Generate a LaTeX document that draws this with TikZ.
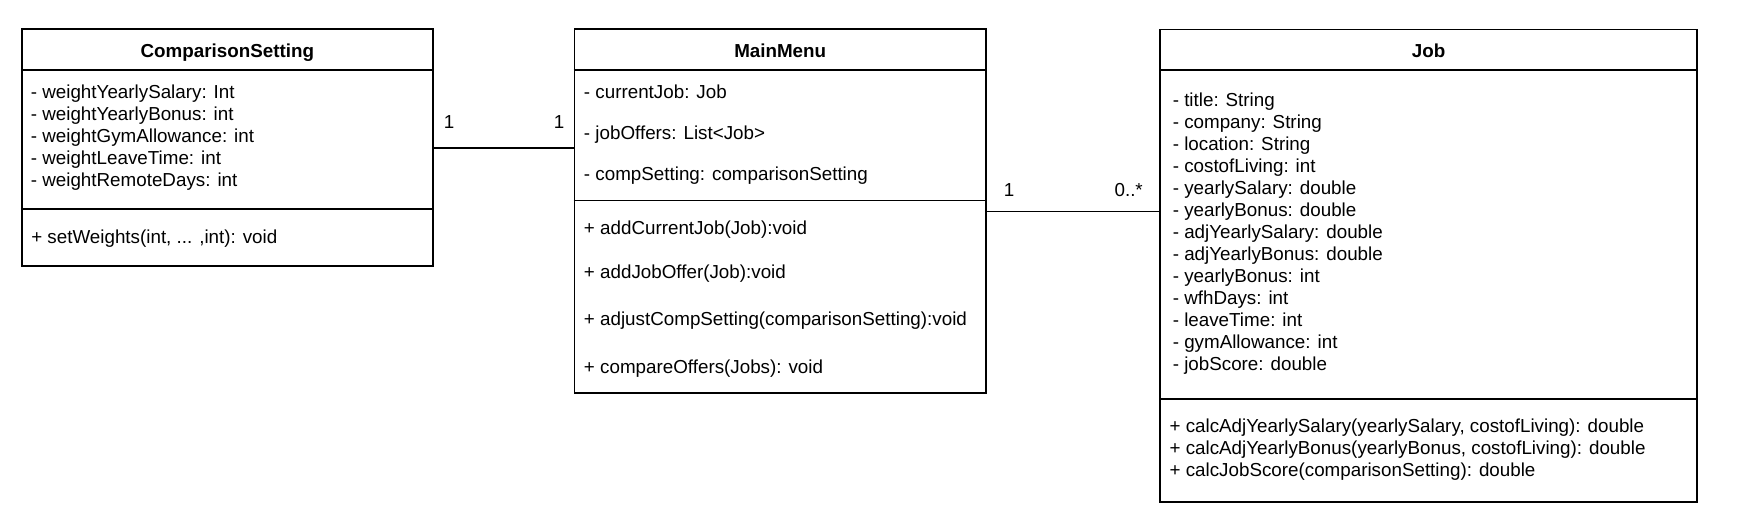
\documentclass[tikz,border=0pt]{standalone}
\usepackage{fontspec}
\setmainfont{Liberation Sans}
\usetikzlibrary{fit}
\tikzset{
  classbox/.style={draw=black, line width=1.45pt, inner sep=0pt, fill=none},
  sepline/.style={draw=black, line width=1.45pt},
  assoc/.style={draw=black, line width=1.45pt},
  txt/.style={anchor=base west, inner sep=0pt, font=\fontsize{14.1}{17}\selectfont},
  ttl/.style={anchor=base, inner sep=0pt, font=\fontsize{14.1}{17}\selectfont\bfseries},
  mult/.style={anchor=base, inner sep=0pt, font=\fontsize{14.1}{17}\selectfont}
}
\begin{document}
\begin{tikzpicture}[x=0.75pt,y=-0.75pt]
\useasboundingbox[fill=white] (0,0) rectangle (1751,529);

% ComparisonSetting
\node[classbox, fit={(21.8,29.3) (432.8,265.7)}] (cs) {};
\draw[sepline] (cs.west |- 0,69.7) -- (cs.east |- 0,69.7);
\draw[sepline] (cs.west |- 0,209) -- (cs.east |- 0,209);
\node[ttl] (cst) at (227.3,57.5) {ComparisonSetting};
\node[txt] (csa1) at (30.6,98.7) {- weightYearlySalary: Int};
\node[txt] (csa2) at (30.6,120.7) {- weightYearlyBonus: int};
\node[txt] (csa3) at (30.6,142.7) {- weightGymAllowance: int};
\node[txt] (csa4) at (30.6,164.7) {- weightLeaveTime: int};
\node[txt] (csa5) at (30.6,186.7) {- weightRemoteDays: int};
\node[txt] (csm1) at (31,243.4) {+ setWeights(int, ... ,int): void};

% MainMenu
\node[classbox, fit={(574.5,29.3) (985.8,392.7)}] (mm) {};
\draw[sepline] (mm.west |- 0,70) -- (mm.east |- 0,70);
\draw[sepline] (mm.west |- 0,200.5) -- (mm.east |- 0,200.5);
\node[ttl] (mmt) at (780.2,57.2) {MainMenu};
\node[txt] (mma1) at (583.7,98.4) {- currentJob: Job};
\node[txt] (mma2) at (583.7,139.4) {- jobOffers: List<Job>};
\node[txt] (mma3) at (583.7,180.7) {- compSetting: comparisonSetting};
\node[txt] (mmm1) at (583.7,234.4) {+ addCurrentJob(Job):void};
\node[txt] (mmm2) at (583.7,278.4) {+ addJobOffer(Job):void};
\node[txt] (mmm3) at (583.7,325) {+ adjustCompSetting(comparisonSetting):void};
\node[txt] (mmm4) at (583.7,373.4) {+ compareOffers(Jobs): void};

% Job
\node[classbox, fit={(1160,29.5) (1697.3,502.3)}] (job) {};
\draw[sepline] (job.west |- 0,70) -- (job.east |- 0,70);
\draw[sepline] (job.west |- 0,399.3) -- (job.east |- 0,399.3);
\node[ttl] (jobt) at (1428.6,57.2) {Job};
\node[txt] (ja1) at (1172.5,106.0) {- title: String};
\node[txt] (ja2) at (1172.5,128.06) {- company: String};
\node[txt] (ja3) at (1172.5,150.12) {- location: String};
\node[txt] (ja4) at (1172.5,172.18) {- costofLiving: int};
\node[txt] (ja5) at (1172.5,194.24) {- yearlySalary: double};
\node[txt] (ja6) at (1172.5,216.3) {- yearlyBonus: double};
\node[txt] (ja7) at (1172.5,238.36) {- adjYearlySalary: double};
\node[txt] (ja8) at (1172.5,260.42) {- adjYearlyBonus: double};
\node[txt] (ja9) at (1172.5,282.48) {- yearlyBonus: int};
\node[txt] (ja10) at (1172.5,304.54) {- wfhDays: int};
\node[txt] (ja11) at (1172.5,326.6) {- leaveTime: int};
\node[txt] (ja12) at (1172.5,348.66) {- gymAllowance: int};
\node[txt] (ja13) at (1172.5,370.72) {- jobScore: double};
\node[txt] (jm1) at (1169.3,432.7) {+ calcAdjYearlySalary(yearlySalary, costofLiving): double};
\node[txt] (jm2) at (1169.3,454.5) {+ calcAdjYearlyBonus(yearlyBonus, costofLiving): double};
\node[txt] (jm3) at (1169.3,476.3) {+ calcJobScore(comparisonSetting): double};

% Associations
\draw[assoc] (cs.east |- 0,147.7) -- (mm.west |- 0,147.7);
\node[mult] (m1) at (449,128.3) {1};
\node[mult] (m2) at (559,128.3) {1};
\draw[assoc] (mm.east |- 0,211.5) -- (job.west |- 0,211.5);
\node[mult] (m3) at (1009,196.7) {1};
\node[txt] (m4) at (1114.3,196.5) {0..*};
\end{tikzpicture}
\end{document}
